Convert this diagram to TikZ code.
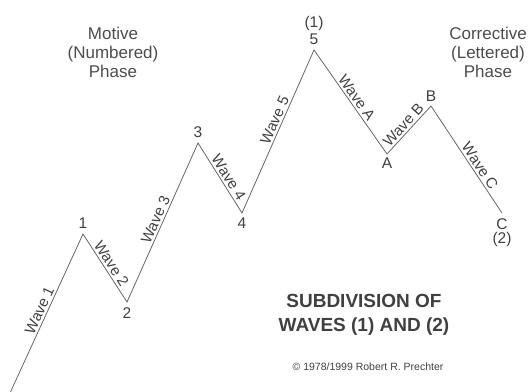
\documentclass[tikz,border=0pt]{standalone}
\usepackage{fontspec}
\setmainfont{Liberation Sans}
\usetikzlibrary{positioning}

\begin{document}
\begin{tikzpicture}[x=1pt,y=-1pt,
  wave/.style={draw=black!60,line width=0.8pt},
  wlabel/.style={sloped,above,inner sep=2pt,text=black!75,font=\fontsize{15}{17}\selectfont},
  pt/.style={inner sep=1pt,text=black!75,font=\fontsize{15.5}{18}\selectfont},
  phase/.style={align=center,text=black!70,font=\fontsize{17}{19}\selectfont}]
\useasboundingbox (0,0) rectangle (532,391);
% Wellen-Eckpunkte
\coordinate (s) at (10,393);
\coordinate (p1) at (83,234);
\coordinate (p2) at (127,302);
\coordinate (p3) at (198,143);
\coordinate (p4) at (242,213);
\coordinate (p5) at (314,50);
\coordinate (pA) at (387,154);
\coordinate (pB) at (431,106);
\coordinate (pC) at (502,213);

\draw[wave] (s) -- node[wlabel]{Wave 1} (p1)
  -- node[wlabel]{Wave 2} (p2)
  -- node[wlabel]{Wave 3} (p3)
  -- node[wlabel,pos=0.55]{Wave 4} (p4)
  -- node[wlabel,pos=0.55]{Wave 5} (p5)
  -- node[wlabel]{Wave A} (pA)
  -- node[wlabel]{Wave B} (pB)
  -- node[wlabel,pos=0.6]{Wave C} (pC);

\node[pt,above=4pt of p1] (l1) {1};
\node[pt,below=4pt of p2] (l2) {2};
\node[pt,above=4pt of p3] (l3) {3};
\node[pt,below=4pt of p4] (l4) {4};
\node[pt,above=4pt of p5] (l5) {5};
\node[pt,above=1pt of l5] (l5b) {(1)};
\node[pt,below=3pt of pA] (lA) {A};
\node[pt,above=3pt of pB] (lB) {B};
\node[pt,below=4pt of pC] (lC) {C};
\node[pt,below=1pt of lC] (lCb) {(2)};

\node[phase] (motive) at (113,52) {Motive\\(Numbered)\\Phase};
\node[phase] (corr) at (488,52) {Corrective\\(Lettered)\\Phase};

\node[align=center,text=black!75,font=\bfseries\fontsize{19}{24}\selectfont] (title) at (364,315)
  {SUBDIVISION OF\\WAVES (1) AND (2)};
\node[text=black!75,font=\fontsize{10.5}{12}\selectfont] (copy) at (368,367)
  {\textcopyright{} 1978/1999 Robert R. Prechter};
\end{tikzpicture}
\end{document}
